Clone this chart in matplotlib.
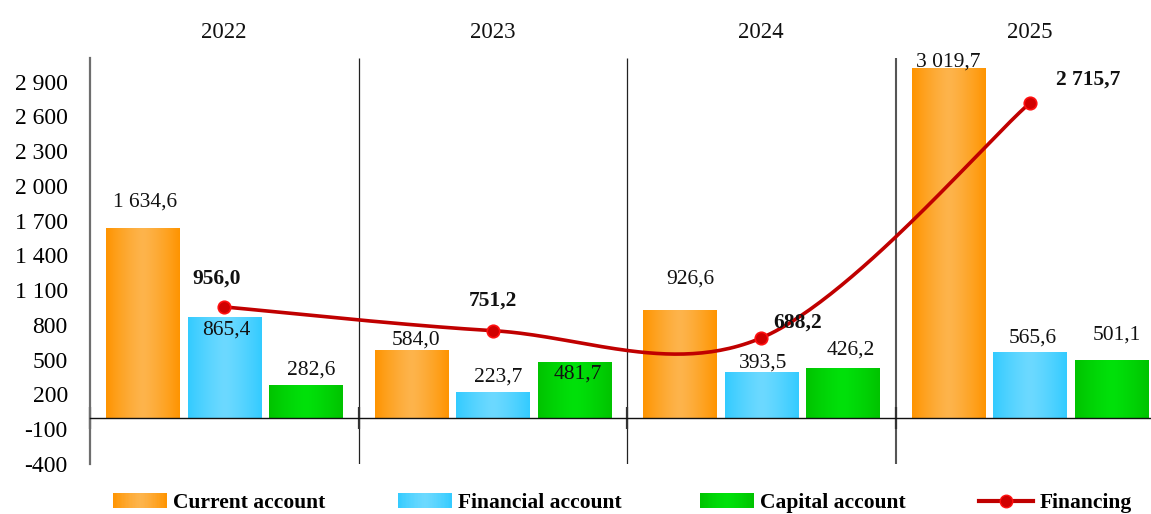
import numpy as np
import matplotlib
matplotlib.use("Agg")
import matplotlib.pyplot as plt
from matplotlib.patches import Patch, Rectangle
from matplotlib.lines import Line2D

# ---------------- data ----------------
years = ["2022", "2023", "2024", "2025"]
current_account = [1634.6, 584.0, 926.6, 3019.7]
financial_account = [865.4, 223.7, 393.5, 565.6]
capital_account = [282.6, 481.7, 426.2, 501.1]
financing = [956.0, 751.2, 688.2, 2715.7]
series_names = ["Current account", "Financial account", "Capital account", "Financing"]
y_ticks = [-400, -100, 200, 500, 800, 1100, 1400, 1700, 2000, 2300, 2600, 2900]

# ---------------- layout / style ----------------
DPI = 100
W, H = 1151, 514
FONT = "Liberation Serif"
plt.rcParams["font.family"] = [FONT, "DejaVu Serif"]

# gradient colours (edge, centre)
grad_cols = [("#FF9400", "#FDB44C"), ("#33CBFF", "#6CD9FF"), ("#00C300", "#00E10A")]
line_col = "#C00000"

# label offsets in pixels (dx, dy up) for each series / year
off_cur = [(2, 26), (5, 10), (10, 31), (0, 6)]
off_fin_acc = [(2, -13), (5, 15), (2, 9), (3, 14)]
off_cap = [(5, 15), (3, -12), (8, 18), (5, 25)]
off_financing = [(-8, 28), (0, 30), (36, 15), (58, 24)]


def fmt(v):
    s = f"{v:,.1f}"
    return s.replace(",", " ").replace(".", ",")


xs = np.linspace(0, 1, 256)
t = np.abs(xs - 0.5) * 2
t = t ** 1.3


def mix(edge, centre, tv):
    e = np.array(matplotlib.colors.to_rgb(edge))
    c = np.array(matplotlib.colors.to_rgb(centre))
    return c * (1 - tv) + e * tv


def grad_img(edge, centre):
    row = np.array([mix(edge, centre, tv) for tv in t])
    return row[None, :, :]


class GradHandler:
    def __init__(self, edge, centre):
        self.edge, self.centre = edge, centre

    def legend_artist(self, legend, orig_handle, fontsize, handlebox):
        x0, y0 = handlebox.xdescent, handlebox.ydescent
        w, h = handlebox.width, handlebox.height
        nstrip = 40
        first = None
        for k in range(nstrip):
            tv = abs((k + 0.5) / nstrip - 0.5) * 2
            r = Rectangle((x0 + w * k / nstrip, y0), w / nstrip * 1.05, h,
                          facecolor=mix(self.edge, self.centre, tv ** 1.3),
                          edgecolor="none", transform=handlebox.get_transform())
            handlebox.add_artist(r)
            if first is None:
                first = r
        return first


fig = plt.figure(figsize=(W / DPI, H / DPI), dpi=DPI)
ax_left = 90 / W
ax_w = 4 * 268.5 / W
ax_bottom = 50 / H
ax_h = 406 / H
ax = fig.add_axes([ax_left, ax_bottom, ax_w, ax_h])

ymin, ymax = -400, 3105
n = len(years)
centers = np.arange(n) + 0.5
bw = 0.272
offsets = [-0.303, 0.0, 0.304]
all_series = [current_account, financial_account, capital_account]
all_offs = [off_cur, off_fin_acc, off_cap]

for si, (vals, off, (ec, cc)) in enumerate(zip(all_series, offsets, grad_cols)):
    bars = ax.bar(centers + off, vals, width=bw, color="none", edgecolor="none", zorder=2)
    img = grad_img(ec, cc)
    for b, v in zip(bars, vals):
        x0 = b.get_x()
        im = ax.imshow(img, extent=[x0, x0 + bw, 0, v], aspect="auto",
                       interpolation="bilinear", zorder=2)
        im.set_clip_path(b)
    for i, v in enumerate(vals):
        dx, dy = all_offs[si][i]
        ax.annotate(fmt(v), (centers[i] + off, v), xytext=(dx * 72 / DPI, dy * 72 / DPI),
                    textcoords="offset points", ha="center", va="center",
                    fontsize=15.5, color="#111111", zorder=5)

# smoothed financing line (Catmull-Rom through the points)
px = centers
py = np.array(financing)
cx, cy = [], []
pts = np.column_stack([px, py])
ext = np.vstack([pts[0], pts, pts[-1]])
for k in range(len(pts) - 1):
    p0, p1, p2, p3 = ext[k], ext[k + 1], ext[k + 2], ext[k + 3]
    c1 = p1 + (p2 - p0) / 6
    c2 = p2 - (p3 - p1) / 6
    tt = np.linspace(0, 1, 60)[:, None]
    seg = ((1 - tt) ** 3) * p1 + 3 * ((1 - tt) ** 2) * tt * c1 + 3 * (1 - tt) * tt ** 2 * c2 + tt ** 3 * p2
    cx.extend(seg[:, 0]); cy.extend(seg[:, 1])
ax.plot(cx, cy, color=line_col, lw=2.6, zorder=4, solid_capstyle="round")
ax.plot(px, py, "o", ms=9, mfc="#D00000", mec="#FF1010", mew=1.2, zorder=5)
for i, v in enumerate(financing):
    dx, dy = off_financing[i]
    ax.annotate(fmt(v), (px[i], v), xytext=(dx * 72 / DPI, dy * 72 / DPI),
                textcoords="offset points", ha="center", va="center",
                fontsize=15.5, fontweight="bold", color="#111111", zorder=6)

# separators
ax.vlines([1, 2], ymin, ymax, color="#222222", lw=0.9, zorder=1)
ax.vlines([3], ymin, ymax, color="#555555", lw=1.5, zorder=1)

# axes styling
ax.set_xlim(0, n)
ax.set_ylim(ymin, ymax)
for s in ["top", "right"]:
    ax.spines[s].set_visible(False)
ax.spines["left"].set_color("#6e6e6e")
ax.spines["left"].set_linewidth(1.6)
ax.spines["bottom"].set_position(("data", 0))
ax.spines["bottom"].set_color("#111111")
ax.spines["bottom"].set_linewidth(1.0)
ax.set_xticks(np.arange(n + 1))
ax.set_xticklabels([])
ax.tick_params(axis="x", direction="inout", length=16, width=1.6, color="#333333")
for tl in ax.xaxis.get_ticklines():
    tl.set_zorder(6)
ax.set_yticks(y_ticks)
ax.set_yticklabels([fmt(v).replace(",0", "") for v in y_ticks], fontsize=17)
ax.tick_params(axis="y", length=0, pad=16)

for i, yr in enumerate(years):
    ax.text(centers[i], 1.064, yr, transform=ax.get_xaxis_transform(), ha="center",
            va="center", fontsize=16.5, color="#111111")

# legend (one entry each, placed along the bottom)
handles = [Patch(facecolor=grad_cols[0][1]),
           Patch(facecolor=grad_cols[1][1]),
           Patch(facecolor=grad_cols[2][1]),
           Line2D([0], [0], color=line_col, lw=3, marker="o", ms=9, mfc="#D00000", mec="#FF1010")]
leg_x = [113, 398, 700, 979]
for k, (h, name, lx) in enumerate(zip(handles, series_names, leg_x)):
    hm = {h: GradHandler(*grad_cols[k])} if k < 3 else None
    lg = fig.legend([h], [name], loc="center left", bbox_to_anchor=(lx / W, 1 - 503 / H),
                    frameon=False, borderaxespad=0, borderpad=0, handlelength=2.5,
                    handleheight=0.7, handletextpad=0.3, handler_map=hm,
                    prop={"family": FONT, "weight": "bold", "size": 15.5})

fig.savefig("out.png", dpi=DPI)
